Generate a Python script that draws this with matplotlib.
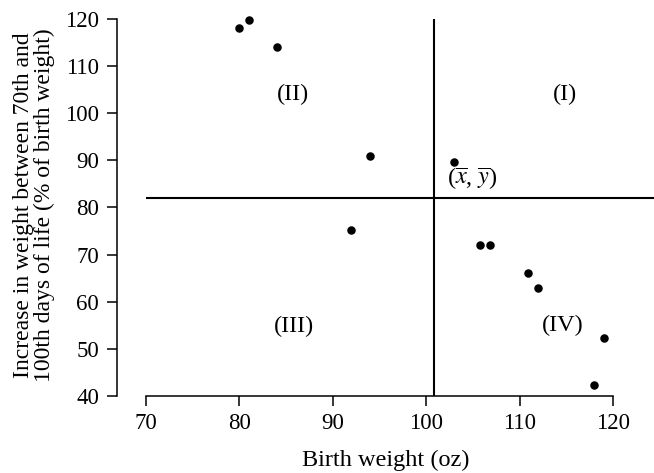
import matplotlib.pyplot as plt

plt.rcParams['font.family'] = ['Liberation Serif', 'DejaVu Serif']
plt.rcParams['mathtext.fontset'] = 'stix'

# birth weight (oz) vs increase in weight (% of birth weight)
birth_weight = [80, 81, 84, 94, 103, 92, 105.8, 106.8, 110.9, 112, 119, 118]
weight_gain = [118, 119.8, 114, 91, 89.7, 75.1, 72.1, 72.1, 66, 62.9, 52.3, 42.3]
xbar = 100.8
ybar = 81.9

quadrants = ["(I)", "(II)", "(III)", "(IV)"]
quad_x = [114.9, 85.7, 85.8, 114.6]
quad_y = [104, 104, 54.8, 55]

xticks = [70, 80, 90, 100, 110, 120]
yticks = [40, 50, 60, 70, 80, 90, 100, 110, 120]

fig = plt.figure(figsize=(6.54, 4.73), dpi=100)
ax = fig.add_axes([0.179, 0.163, 0.821, 0.807])

ax.scatter(birth_weight, weight_gain, s=26, color="black", zorder=3, clip_on=False)

ax.set_xlim(66.9, 124.4)
ax.set_ylim(40, 121)

ax.hlines(ybar, 70, ax.get_xlim()[1], color="black", linewidth=1.5)
ax.vlines(xbar, 40, 120, color="black", linewidth=1.5)

for lab, qx, qy in zip(quadrants, quad_x, quad_y):
    ax.text(qx, qy, lab, fontsize=17.5, ha="center", va="center")
ax.text(xbar + 1.4, ybar + 4.4, r"($\overline{x}$, $\overline{y}$)", fontsize=17.5,
        ha="left", va="center")

ax.spines['top'].set_visible(False)
ax.spines['right'].set_visible(False)
ax.spines['left'].set_bounds(40, 120)
ax.spines['bottom'].set_bounds(70, 120)
for s in ['left', 'bottom']:
    ax.spines[s].set_linewidth(1.1)

ax.set_xticks(xticks)
ax.set_yticks(yticks)
ax.tick_params(direction="out", length=7, width=1.1, labelsize=16.5)
ax.tick_params(axis="y", pad=6)
ax.tick_params(axis="x", pad=5)

ax.set_xlabel("Birth weight (oz)", fontsize=17.5, labelpad=12)
ax.set_ylabel("Increase in weight between 70th and\n100th days of life (% of birth weight)",
              fontsize=17, labelpad=7, linespacing=1.0)

plt.savefig("out.png", dpi=100)
